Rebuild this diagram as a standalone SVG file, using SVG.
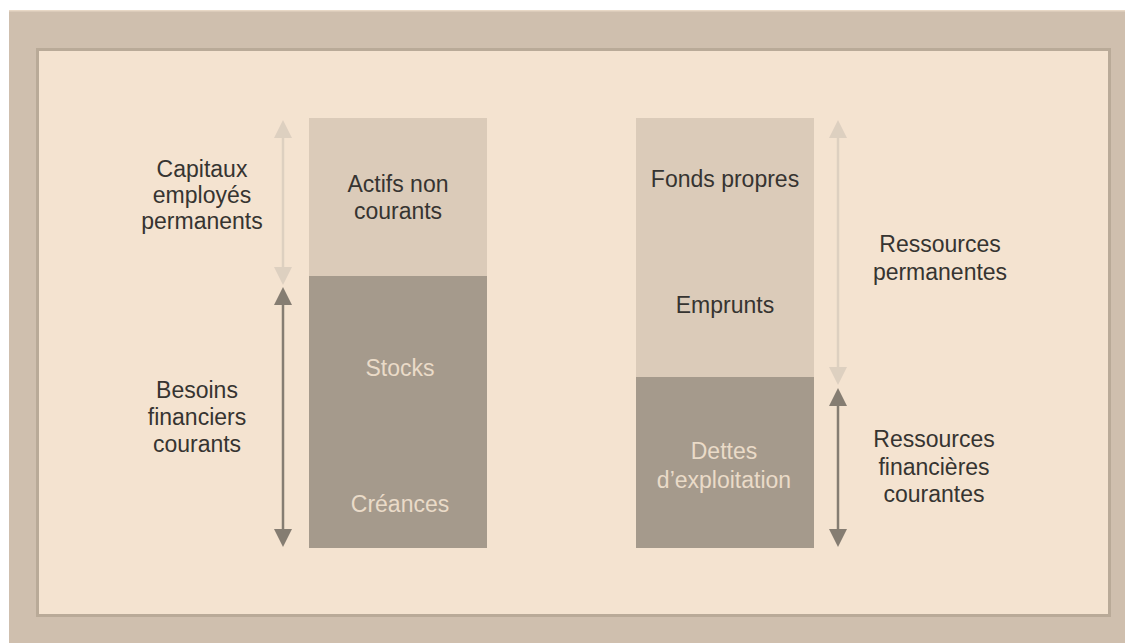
<svg xmlns="http://www.w3.org/2000/svg" width="1125" height="643" viewBox="0 0 1125 643">
<style>
.t{font-family:"Liberation Sans",Arial,sans-serif;font-size:23px;text-anchor:middle}
.dk{fill:#363431}
.lt{fill:#eadbc8}
.al{stroke:#ddd0c0;stroke-width:2.5}
.ad{stroke:#857d72;stroke-width:2.5}
.hl{fill:#ddd0c0}
.hd{fill:#857d72}
</style>
<rect x="0" y="0" width="1125" height="643" fill="#ffffff"/>
<rect x="9" y="10" width="1116" height="633" fill="#cfbfae"/>
<rect x="9" y="10" width="1116" height="1.5" fill="#e8d8c6"/>
<rect x="36" y="48" width="1075" height="569" fill="#b9aa98"/>
<rect x="39" y="51" width="1069" height="563" fill="#f4e3d0"/>

<g id="actifs">
<rect x="309" y="118" width="178" height="158" fill="#dbcbb9"/>
<text class="t dk" x="398" y="192">Actifs non</text>
<text class="t dk" x="398" y="219">courants</text>
</g>
<g id="stocks-creances">
<rect x="309" y="276" width="178" height="272" fill="#a59a8c"/>
<text class="t lt" x="400" y="376">Stocks</text>
<text class="t lt" x="400" y="512">Créances</text>
</g>
<g id="fonds">
<rect x="636" y="118" width="178" height="259" fill="#dbcbb9"/>
<text class="t dk" x="725" y="187">Fonds propres</text>
<text class="t dk" x="725" y="313">Emprunts</text>
</g>
<g id="dettes">
<rect x="636" y="377" width="178" height="171" fill="#a59a8c"/>
<text class="t lt" x="724" y="459">Dettes</text>
<text class="t lt" x="724" y="488">d’exploitation</text>
</g>

<g id="label-capitaux">
<text class="t dk" x="202" y="177">Capitaux</text>
<text class="t dk" x="202" y="203">employés</text>
<text class="t dk" x="202" y="229">permanents</text>
</g>
<g id="label-besoins">
<text class="t dk" x="197" y="398">Besoins</text>
<text class="t dk" x="197" y="425">financiers</text>
<text class="t dk" x="197" y="452">courants</text>
</g>
<g id="label-ressources-perm">
<text class="t dk" x="940" y="252">Ressources</text>
<text class="t dk" x="940" y="280">permanentes</text>
</g>
<g id="label-ressources-fin">
<text class="t dk" x="934" y="447">Ressources</text>
<text class="t dk" x="934" y="475">financières</text>
<text class="t dk" x="934" y="502">courantes</text>
</g>

<g id="connectors">
<line class="al" x1="283" y1="135" x2="283" y2="270"/>
<polygon class="hl" points="283,120 274,138 292,138"/>
<polygon class="hl" points="283,285 274,267 292,267"/>
<line class="ad" x1="283" y1="300" x2="283" y2="532"/>
<polygon class="hd" points="283,287 274,305 292,305"/>
<polygon class="hd" points="283,547 274,529 292,529"/>

<line class="al" x1="838" y1="135" x2="838" y2="372"/>
<polygon class="hl" points="838,120 829,138 847,138"/>
<polygon class="hl" points="838,385 829,367 847,367"/>
<line class="ad" x1="838" y1="400" x2="838" y2="532"/>
<polygon class="hd" points="838,388 829,406 847,406"/>
<polygon class="hd" points="838,547 829,529 847,529"/>
</g>
</svg>
